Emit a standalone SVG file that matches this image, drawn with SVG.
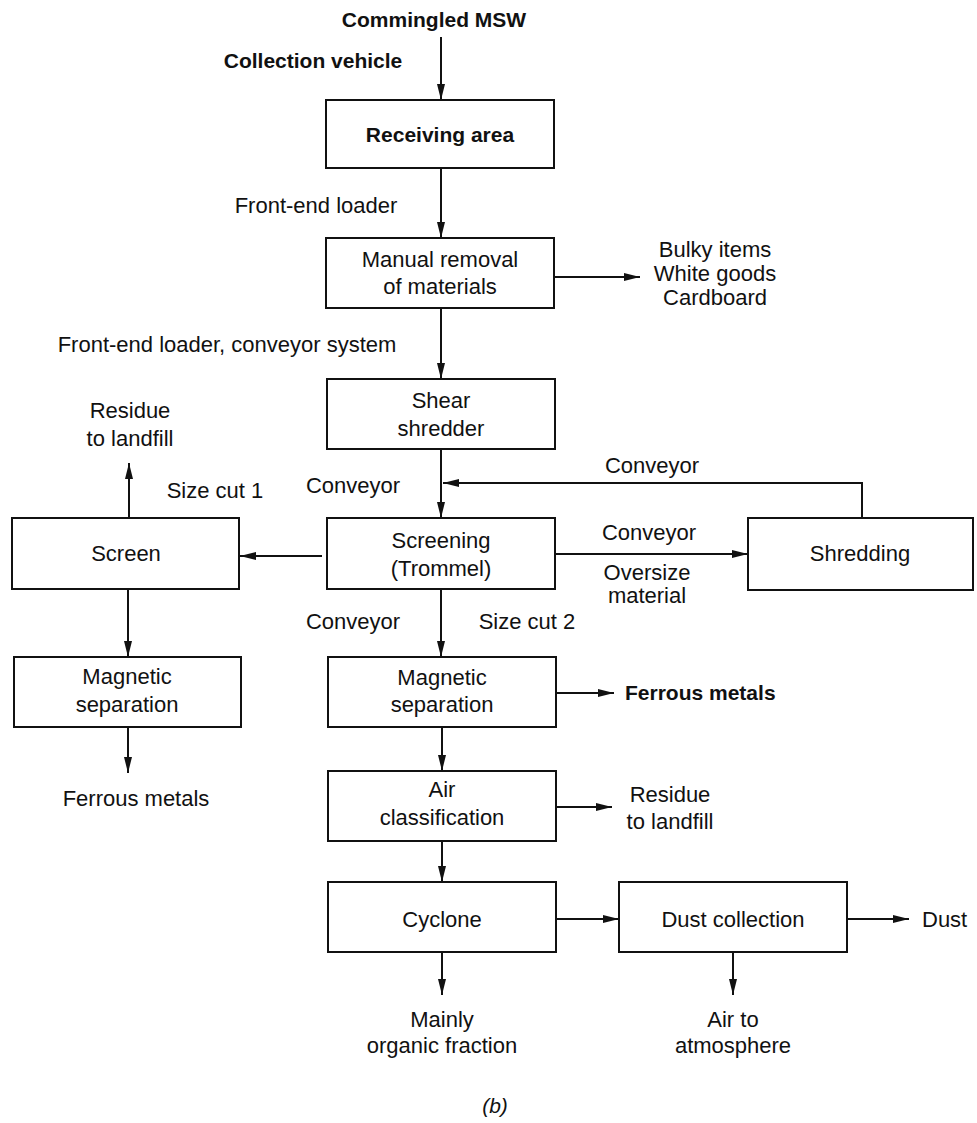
<svg xmlns="http://www.w3.org/2000/svg" width="977" height="1123" viewBox="0 0 977 1123">
<style>
text{font-family:"Liberation Sans",Arial,sans-serif;font-size:22px;fill:#111;text-anchor:middle}
.b{font-weight:bold;font-size:21px}
.s{text-anchor:start}
.box{fill:#fff;stroke:#111;stroke-width:2}
.ln{fill:none;stroke:#111;stroke-width:2}
</style>
<defs>
<marker id="ah" markerUnits="userSpaceOnUse" markerWidth="18" markerHeight="10" refX="16" refY="5" orient="auto">
<path d="M0,1 L16,5 L0,9 Z" fill="#111"/>
</marker>
</defs>
<rect width="977" height="1123" fill="#fff"/>
<g id="connectors" class="ln" marker-end="url(#ah)">
<path d="M441,37 V100"/>
<path d="M441,168 V238"/>
<path d="M441,308 V379"/>
<path d="M554,277 H640"/>
<path d="M441,449 V518"/>
<path d="M862,518 V483 H443"/>
<path d="M322,556 H240"/>
<path d="M555,554 H748"/>
<path d="M129,518 V463"/>
<path d="M128,589 V657"/>
<path d="M128,727 V773"/>
<path d="M441,589 V657"/>
<path d="M556,693 H614"/>
<path d="M442,727 V771"/>
<path d="M556,807 H612"/>
<path d="M442,841 V882"/>
<path d="M556,919 H619"/>
<path d="M847,919 H909"/>
<path d="M442,952 V995"/>
<path d="M733,952 V995"/>
</g>
<g id="labels">
<text class="b" x="434" y="27">Commingled MSW</text>
<text class="b" x="313" y="68">Collection vehicle</text>
<text x="316" y="213">Front-end loader</text>
<text x="715" y="257">Bulky items</text>
<text x="715" y="281">White goods</text>
<text x="715" y="305">Cardboard</text>
<text x="227" y="352">Front-end loader, conveyor system</text>
<text x="130" y="418">Residue</text>
<text x="130" y="446">to landfill</text>
<text x="215" y="498">Size cut 1</text>
<text x="353" y="493">Conveyor</text>
<text x="652" y="473">Conveyor</text>
<text x="649" y="540">Conveyor</text>
<text x="647" y="580">Oversize</text>
<text x="647" y="603">material</text>
<text x="353" y="629">Conveyor</text>
<text x="527" y="629">Size cut 2</text>
<text x="136" y="806">Ferrous metals</text>
<text class="b s" x="625" y="700">Ferrous metals</text>
<text x="670" y="802">Residue</text>
<text x="670" y="829">to landfill</text>
<text class="s" x="922" y="927">Dust</text>
<text x="442" y="1027">Mainly</text>
<text x="442" y="1053">organic fraction</text>
<text x="733" y="1027">Air to</text>
<text x="733" y="1053">atmosphere</text>
<text x="495" y="1113" style="font-style:italic;font-size:21px">(b)</text>
</g>
<g id="receiving"><rect class="box" x="326" y="100" width="228" height="68"/><text class="b" x="440" y="142">Receiving area</text></g>
<g id="manual"><rect class="box" x="326" y="238" width="228" height="70"/><text x="440" y="267">Manual removal</text><text x="440" y="294">of materials</text></g>
<g id="shear"><rect class="box" x="327" y="379" width="228" height="70"/><text x="441" y="408">Shear</text><text x="441" y="436">shredder</text></g>
<g id="screening"><rect class="box" x="327" y="518" width="228" height="71"/><text x="441" y="548">Screening</text><text x="441" y="576">(Trommel)</text></g>
<g id="screen"><rect class="box" x="12" y="518" width="227" height="71"/><text x="126" y="561">Screen</text></g>
<g id="shredding"><rect class="box" x="748" y="518" width="225" height="72"/><text x="860" y="561">Shredding</text></g>
<g id="magsep-left"><rect class="box" x="14" y="657" width="227" height="70"/><text x="127" y="684">Magnetic</text><text x="127" y="712">separation</text></g>
<g id="magsep"><rect class="box" x="328" y="657" width="228" height="70"/><text x="442" y="685">Magnetic</text><text x="442" y="712">separation</text></g>
<g id="airclass"><rect class="box" x="328" y="771" width="228" height="70"/><text x="442" y="797">Air</text><text x="442" y="825">classification</text></g>
<g id="cyclone"><rect class="box" x="328" y="882" width="228" height="70"/><text x="442" y="927">Cyclone</text></g>
<g id="dust"><rect class="box" x="619" y="882" width="228" height="70"/><text x="733" y="927">Dust collection</text></g>
</svg>
